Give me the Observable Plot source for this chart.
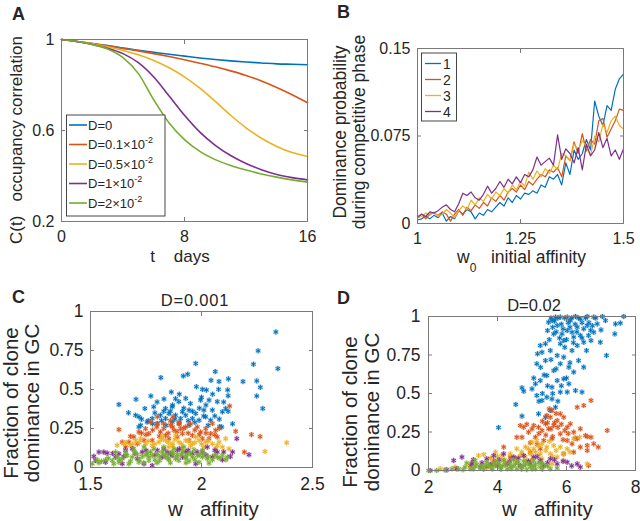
<!DOCTYPE html>
<html><head><meta charset="utf-8">
<script src="https://cdn.jsdelivr.net/npm/d3@7"></script>
<script src="https://cdn.jsdelivr.net/npm/@observablehq/plot@0.6"></script>
<style>
body{margin:0;background:#fff;}
#fig{position:relative;width:640px;height:521px;overflow:hidden;background:#fff;}
.panel{position:absolute;}
.panel svg{overflow:visible;}
</style></head><body><div id="fig"></div>
<script>
// ---------- Panel A data ----------
const days = [0,1,2,3,4,5,6,7,8,9,10,11,12,13,14,15,16];
const corrD0   = [1,.991,.982,.973,.962,.953,.944,.935,.927,.919,.912,.906,.901,.897,.893,.891,.889];
const corrD01  = [1,.991,.982,.972,.961,.950,.938,.925,.911,.896,.880,.862,.842,.818,.789,.757,.722];
const corrD05  = [1,.991,.981,.968,.952,.933,.908,.876,.836,.786,.728,.667,.612,.566,.530,.503,.486];
const corrD1   = [1,.991,.978,.962,.938,.898,.835,.752,.667,.593,.535,.490,.455,.428,.407,.393,.383];
const corrD2   = [1,.992,.978,.958,.920,.850,.735,.633,.560,.508,.472,.446,.426,.409,.395,.383,.373];
const legendA  = ["D=0","D=0.1×10|-2","D=0.5×10|-2","D=1×10|-2","D=2×10|-2"];
const ticksAx = [0,8,16], ticksAy = [0.2,0.6,1];

// ---------- Panel B data ----------
const w0 = [1.00,1.01,1.02,1.03,1.04,1.05,1.06,1.07,1.08,1.09,1.10,1.11,1.12,1.13,1.14,1.15,1.16,1.17,1.18,1.19,1.20,1.21,1.22,1.23,1.24,1.25,1.26,1.27,1.28,1.29,1.30,1.31,1.32,1.33,1.34,1.35,1.36,1.37,1.38,1.39,1.40,1.41,1.42,1.43,1.44,1.45,1.46,1.47,1.48,1.49,1.50];
const dom1 = [.003,.004,.006,.004,.007,.005,.009,.002,.006,.004, .011,.008,.012,.010,.004,.009,.007,.012,.010,.014, .018,.015,.022,.018,.024,.021,.026,.025,.028,.026, .033,.031,.040,.038,.042,.033,.052,.042,.063,.055, .060,.072,.063,.105,.092,.084,.101,.097,.115,.124, .128];
const dom2 = [.006,.008,.004,.008,.009,.007,.010,.008,.002,.008, .012,.007,.014,.011,.016,.013,.018,.015,.022,.019, .024,.020,.027,.030,.027,.033,.029,.036,.033,.038, .042,.040,.046,.044,.048,.040,.058,.054,.070,.060, .077,.062,.072,.068,.088,.090,.074,.081,.088,.098, .097];
const dom3 = [.005,.006,.009,.007,.010,.006,.008,.012,.009,.005, .011,.015,.012,.020,.016,.022,.019,.025,.021,.027, .024,.030,.026,.033,.029,.036,.032,.044,.038,.045, .040,.047,.043,.050,.046,.060,.058,.054,.068,.063, .071,.066,.058,.075,.070,.085,.078,.088,.092,.084, .081];
const dom4 = [.005,.008,.006,.010,.009,.011,.014,.016,.012,.010, .017,.026,.024,.027,.022,.020,.025,.032,.026,.030, .036,.031,.038,.034,.040,.035,.042,.040,.046,.057, .050,.053,.056,.050,.076,.055,.064,.060,.052,.065, .046,.068,.058,.063,.078,.065,.073,.058,.063,.055, .064];
const legendB = ["1","2","3","4"];
const ticksBx = [1,1.25,1.5], ticksBy = [0,0.075,0.15];

// ---------- Panel C data (D=0.001) : [w, fraction] ----------
const cBlue = [[2.335,.869],[2.255,.748],[2.344,.634],[2.234,.662],[2.249,.555],[2.265,.514],[2.249,.458],[2.276,.378],[2.187,.551],[2.121,.568],[2.079,.551],[2.062,.615],[2.118,.497],[2.077,.501],[2.043,.559],[2.004,.501],[1.974,.667],[1.977,.518],[1.938,.598],[1.918,.587],[1.817,.576],[1.864,.484],[1.772,.458],[1.831,.439],[1.705,.437],[1.628,.404],[1.671,.351],[1.718,.325],[1.883,.441],[1.898,.422],[1.929,.443],[1.944,.368],[1.959,.314],[1.996,.432],[2.022,.497],[2.034,.432],[2.049,.368],[2.071,.422],[2.094,.357],[2.109,.378],[2.091,.260],[2.082,.262],[1.838,.378],[1.853,.346],[1.868,.389],[1.815,.335],[1.785,.389],[1.755,.292],[1.726,.271],[1.778,.314],[1.801,.282],[1.883,.335],[1.906,.314],[1.929,.335],[1.974,.346],[2.011,.368],[2.019,.325],[1.989,.303],[1.838,.314],[1.703,.335],[1.745,.378],[1.718,.260],[1.868,.292],[1.944,.271],[1.914,.357],[2.041,.303],
  [1.76,.30],[1.79,.35],[1.82,.30],[1.84,.27],[1.86,.36],[1.88,.31],[1.90,.28],[1.92,.38],[1.94,.30],[1.97,.29],[1.99,.38],[2.01,.33],[2.03,.27],[2.06,.33],[2.08,.31],[2.10,.42],[2.12,.36],[2.14,.28],[1.73,.31],[1.80,.42],[1.87,.40],[1.95,.41],[2.00,.45],[2.05,.47],[2.12,.46],[1.90,.47],[1.83,.36],[1.96,.36],[2.02,.40],[1.78,.28]];
const cRed = [[2.127,.394],[2.154,.232],[2.225,.211],[2.264,.198],[2.193,.099],[1.628,.243],[2.049,.282],[2.064,.239],[2.041,.217],[2.019,.249],[1.996,.228],[1.929,.260],[1.898,.282],[1.861,.271],[1.829,.282],[1.799,.260],[1.771,.292],[1.748,.249],[1.718,.228],[1.695,.196],[1.673,.163],[1.643,.163],[1.658,.131],[1.763,.217],[1.815,.228],[1.838,.206],[1.876,.239],[1.914,.217],[1.959,.206],[1.981,.260],[2.004,.185],[2.034,.185],[2.071,.196],[1.778,.174],[1.741,.174],[1.853,.185],[1.891,.196],[1.944,.174],[1.801,.325],[1.871,.325],[1.906,.249],[1.711,.152],
  [1.75,.21],[1.78,.24],[1.81,.20],[1.83,.25],[1.85,.22],[1.87,.26],[1.89,.23],[1.92,.25],[1.94,.22],[1.97,.24],[1.99,.21],[2.02,.22],[2.06,.21],[1.73,.22],[1.80,.28],[1.86,.30],[1.90,.29],[1.95,.28],[2.08,.25],[1.68,.20]];
const cYellow = [[2.384,.159],[2.286,.103],[2.124,.120],[2.109,.185],[2.079,.163],[2.049,.152],[2.019,.163],[1.989,.174],[1.959,.152],[1.929,.174],[1.898,.163],[1.868,.152],[1.838,.174],[1.808,.163],[1.778,.142],[1.748,.152],[1.726,.185],[1.703,.174],[1.680,.142],[1.650,.152],[1.620,.142],[1.823,.196],[1.883,.206],[1.974,.196],[2.011,.131],[2.064,.120],[1.853,.131],[1.914,.120],[2.094,.131],
  [1.72,.16],[1.76,.17],[1.79,.15],[1.82,.18],[1.85,.16],[1.88,.18],[1.91,.15],[1.94,.17],[1.97,.16],[2.00,.15],[2.03,.17],[2.07,.14],[1.66,.16],[1.69,.15],[1.87,.14],[1.95,.14]];
const cPurple = [[1.515,.071],[1.538,.099],[1.560,.099],[1.575,.092],[1.523,.045],[1.568,.034],[1.613,.067],[1.628,.088],[1.658,.110],[1.688,.120],[1.741,.024],[1.778,.013],[1.823,.067],[1.868,.077],[1.914,.067],[1.959,.088],[1.974,.024],[2.004,.099],[2.049,.067],[2.094,.049],[2.140,.099],[2.159,.185],[2.214,.082],[1.733,.099],[1.801,.110],[1.845,.099],[1.891,.110],[1.929,.099],[2.026,.131],[2.071,.099],[1.711,.056],[1.643,.024],
  [1.70,.09],[1.75,.11],[1.79,.08],[1.83,.12],[1.86,.09],[1.90,.12],[1.94,.11],[1.98,.10],[2.02,.08],[2.06,.11],[2.10,.10],[2.13,.07],[1.60,.09],[1.65,.07]];
const cGreen = [[1.508,.024],[1.538,.030],[1.568,.049],[1.598,.045],[1.620,.067],[1.643,.056],[1.665,.077],[1.688,.067],[1.711,.084],[1.733,.071],[1.756,.092],[1.778,.077],[1.801,.088],[1.823,.099],[1.845,.084],[1.868,.099],[1.891,.084],[1.914,.099],[1.936,.084],[1.959,.067],[1.981,.077],[2.004,.067],[2.026,.056],[2.049,.049],[2.071,.067],[2.094,.077],[2.117,.067],[1.628,.034],[1.673,.024],[1.718,.034],[1.763,.045],[1.812,.045],[1.853,.049],[1.898,.045],[1.944,.041],[1.989,.034],[2.034,.028],[1.695,.120],[1.741,.131],[1.785,.120],[1.830,.131],[1.876,.120],[1.921,.131],[1.966,.114],[1.658,.099],[1.613,.099],[2.004,.110],[1.763,.067],[1.838,.067],[1.883,.056],[1.929,.067],[1.605,.024],[1.530,.049],
  [1.70,.10],[1.72,.05],[1.75,.08],[1.77,.10],[1.79,.05],[1.81,.07],[1.83,.08],[1.85,.06],[1.87,.09],[1.89,.07],[1.91,.08],[1.93,.06],[1.95,.09],[1.97,.05],[1.99,.08],[2.01,.09],[2.03,.07],[2.06,.08],[2.08,.06],[2.11,.05],[1.68,.04],[1.74,.03],[1.80,.03],[1.86,.03],[1.93,.03],[1.55,.04],[1.58,.06],[1.63,.05],[1.66,.08]];
const ticksCx = [1.5,2,2.5], ticksCy = [0,0.25,0.5,0.75,1];

// ---------- Panel D data (D=0.02) : [w, fraction] ----------
const dBlue = [[7.66,1.0],[7.56,.957],[7.42,.952],[7.40,.887],[7.16,.747],[6.98,.833],[7.0,.913],[6.79,.996],[6.60,.942],[6.64,.877],[6.50,.833],[6.58,.779],[6.40,.985],[6.31,.931],[6.21,.866],[6.11,.974],[6.02,.909],[5.92,.844],[5.82,.996],[5.73,.942],[5.63,.887],[5.58,.974],[5.48,.963],[5.45,.909],[5.39,.823],[5.24,.812],[5.29,.768],[5.14,.693],[5.16,.758],[5.39,.714],[5.53,.779],[5.73,.747],[5.82,.693],[5.63,.649],[5.43,.617],[5.24,.584],[5.10,.563],[5.0,.530],[4.71,.537],[4.76,.515],[5.14,.487],[5.29,.455],[5.43,.476],[5.58,.465],[5.68,.411],[5.53,.390],[5.39,.346],[5.19,.368],[4.53,.429],[4.71,.353],[4.03,.279],[5.92,.595],[6.07,.563],[6.21,.639],[6.26,.519],[6.02,.509],[6.45,.509],[6.35,.714],[6.50,.671],[6.16,.779],[5.92,.736],[6.07,.671],[5.82,.823],[6.31,.812],[6.79,.898],[6.89,.952],[7.13,.974],[6.02,.996],[6.26,1.0],[6.60,1.0],[7.04,1.0],[5.68,.996],[5.87,.887],[6.16,.898],[6.40,.877],[6.71,.844],[5.73,.584],[5.82,.509],[5.58,.541],
  [5.55,.99],[5.65,.97],[5.75,.99],[5.85,.95],[5.95,.99],[6.05,.96],[6.15,.99],[6.25,.95],[6.35,.99],[6.45,.96],[6.55,.99],[6.65,.96],[6.75,.94],[6.85,.99],[5.60,.93],[5.70,.90],[5.90,.92],[6.10,.93],[6.30,.90],[6.50,.92],[6.70,.91],[5.80,.86],[6.00,.85],[6.20,.83],[6.45,.86],[5.50,.85],[5.95,.80],[6.10,.70],[5.70,.66],[5.55,.72],[5.35,.62],[5.45,.55],[5.60,.50],[5.30,.50],[5.20,.45],[5.75,.45],[6.00,.60],[5.85,.55],[5.05,.60],[5.25,.67]];
const dRed = [[6.71,.455],[6.50,.422],[6.31,.411],[7.18,.260],[6.92,.152],[6.79,.173],[6.60,.162],[6.71,.216],[6.55,.227],[6.40,.271],[6.21,.249],[6.11,.303],[6.02,.281],[5.92,.346],[5.82,.368],[5.73,.325],[5.63,.292],[5.53,.346],[5.48,.271],[5.39,.303],[5.29,.260],[5.19,.281],[5.05,.292],[4.90,.249],[4.76,.281],[4.66,.292],[4.56,.216],[4.71,.216],[5.10,.216],[5.34,.195],[5.58,.206],[5.82,.238],[6.02,.195],[6.16,.173],[6.31,.206],[6.40,.152],[4.18,.152],[5.43,.357],[5.58,.390],[5.92,.108],[6.21,.119],[6.60,.130],[5.24,.141],[4.95,.119],[4.37,.087],[3.89,.065],[3.21,.032],[3.69,.022],[6.64,.032],
  [5.30,.32],[5.45,.31],[5.55,.27],[5.65,.31],[5.75,.28],[5.85,.30],[5.95,.26],[6.05,.24],[5.40,.23],[5.60,.22],[5.20,.24],[5.00,.27],[4.85,.30],[5.70,.37],[5.50,.40],[5.90,.20],[6.25,.21],[6.60,.22],[4.95,.18],[5.15,.17]];
const dYellow = [[4.56,.141],[4.81,.152],[5.0,.184],[5.14,.195],[5.29,.173],[5.43,.152],[5.63,.162],[5.82,.152],[6.02,.141],[6.21,.206],[6.38,.216],[5.24,.108],[4.95,.108],[4.66,.097],[4.37,.108],[4.13,.097],[3.94,.119],[3.60,.104],[3.45,.097],[3.26,.054],[5.05,.141],[5.53,.108],[5.73,.087],[5.92,.065],[4.85,.065],[4.56,.054],[4.23,.043],[3.89,.032],[5.29,.076],[5.58,.043],[6.60,.043],[2.34,.011],[2.77,.022],
  [4.70,.12],[4.90,.14],[5.10,.12],[5.20,.16],[5.40,.13],[5.50,.19],[5.70,.13],[5.90,.11],[6.10,.12],[4.50,.08],[4.80,.09],[5.00,.07],[5.60,.09],[4.20,.07],[4.00,.09],[3.80,.08]];
const dPurple = [[2.05,0],[2.97,.087],[3.26,.043],[3.69,.076],[3.89,.097],[4.18,.108],[4.47,.087],[4.76,.097],[5.05,.087],[5.24,.065],[5.53,.076],[5.73,.043],[6.02,.054],[6.31,.043],[6.40,.022],[4.28,.043],[3.99,.032],[3.50,.022],[4.66,.032],[4.95,.043],[5.34,.032],[2.82,.011],[2.53,.004],[2.73,.065],
  [3.30,.07],[3.55,.05],[3.80,.04],[4.05,.07],[4.35,.06],[4.60,.08],[4.90,.06],[5.15,.09],[5.45,.05],[5.65,.07],[5.90,.06],[6.15,.03]];
const dGreen = [[2.0,0],[2.24,0],[2.48,.004],[2.68,.011],[2.87,.011],[3.06,.022],[3.21,.011],[3.35,.026],[3.50,.017],[3.64,.032],[3.79,.022],[3.94,.032],[4.08,.022],[4.23,.039],[4.37,.026],[4.52,.043],[4.66,.026],[4.81,.039],[4.95,.026],[5.10,.039],[5.24,.022],[5.39,.032],[5.53,.011],[5.73,.015],[4.18,.065],[4.47,.069],[4.76,.061],[3.69,.054],[3.99,.061],[5.05,.065],[5.29,.048],[3.35,.065],[3.11,.048],[4.28,.011],[4.56,.011],[4.85,.006],[5.10,.011],
  [3.00,.005],[3.30,.01],[3.60,.008],[3.85,.01],[4.10,.008],[4.40,.012],[4.70,.008],[5.00,.01],[5.30,.008],[3.40,.04],[3.75,.035],[4.05,.045],[4.35,.05],[4.60,.055],[4.90,.045],[5.20,.05],[5.45,.03],[4.15,.03],[4.45,.03],[4.75,.03],[5.05,.03],[3.55,.03],[3.90,.045]];
const ticksDx = [2,4,6,8], ticksDy = [0,0.25,0.5,0.75,1];

// ---------- styling ----------
const FONT = '"Liberation Sans", Arial, Helvetica, sans-serif';
const INK = "#262626", AX = "#7a7a7a";
const COLORS = ["#0072BD","#D95319","#EDB120","#7E2F8E","#77AC30"];
const fig = document.getElementById("fig");

function addPlot(left, top, w, h, m, xdom, ydom, xt, yt, fs, padX, padY, marks) {
  const p = Plot.plot({
    width: w, height: h,
    marginLeft: m[0], marginRight: m[1], marginTop: m[2], marginBottom: m[3],
    x: {domain: xdom}, y: {domain: ydom},
    style: {fontFamily: FONT, background: "transparent", overflow: "visible", color: INK},
    marks: [
      ...marks,
      Plot.frame({stroke: AX, strokeWidth: 1}),
      Plot.axisX(xt, {anchor: "bottom", tickSize: -4, stroke: AX, fill: "none", label: null, tickFormat: () => ""}),
      Plot.axisX(xt, {anchor: "top", tickSize: -4, stroke: AX, fill: "none", label: null, tickFormat: () => ""}),
      Plot.axisY(yt, {anchor: "left", tickSize: -4, stroke: AX, fill: "none", label: null, tickFormat: () => ""}),
      Plot.axisY(yt, {anchor: "right", tickSize: -4, stroke: AX, fill: "none", label: null, tickFormat: () => ""}),
      Plot.axisX(xt, {anchor: "bottom", tickSize: 0, tickPadding: padX, fontSize: fs, fill: INK, label: null, tickFormat: d => String(d)}),
      Plot.axisY(yt, {anchor: "left", tickSize: 0, tickPadding: padY, fontSize: fs, fill: INK, label: null, tickFormat: d => String(d)})
    ]
  });
  const d = document.createElement("div");
  d.className = "panel";
  d.style.left = left + "px"; d.style.top = top + "px";
  d.appendChild(p);
  fig.appendChild(d);
}

function series(xs, ys) { return xs.map((x, i) => ({x, y: ys[i]})); }

function scatter(pts, color) {
  return [
    Plot.dot(pts, {x: d => d[0], y: d => d[1], r: 2.8, fill: color, fillOpacity: 0.28, stroke: "none"}),
    Plot.dot(pts, {x: d => d[0], y: d => d[1], r: 2.4, symbol: "asterisk", fill: "none", stroke: color, strokeWidth: 1})
  ];
}

// Panel A
const corrA = [corrD0, corrD01, corrD05, corrD1, corrD2];
addPlot(0, 0, 320, 260, [61, 13, 39, 39], [0, 16], [0.2, 1], ticksAx, ticksAy, 16, 9, 7,
  corrA.map((c, i) => Plot.line(series(days, c), {x: "x", y: "y", stroke: COLORS[i], strokeWidth: 1.6, curve: "monotone-x"})));

// Panel B
const domB = [dom1, dom2, dom3, dom4];
addPlot(320, 0, 320, 260, [97, 17, 48, 37], [1, 1.5], [0, 0.15], ticksBx, ticksBy, 16, 9, 7,
  domB.map((c, i) => Plot.line(series(w0, c), {x: "x", y: "y", stroke: COLORS[i], strokeWidth: 1.2})));

// Panel C
addPlot(0, 260, 320, 261, [90, 8, 51, 54], [1.5, 2.5], [0, 1], ticksCx, ticksCy, 17.5, 10, 7,
  [cBlue, cRed, cYellow, cPurple, cGreen].flatMap((p, i) => scatter(p, COLORS[i])));

// Panel D
addPlot(320, 260, 320, 261, [108, 5, 56, 51], [2, 8], [0, 1], ticksDx, ticksDy, 17.5, 10, 8,
  [dBlue, dRed, dYellow, dPurple, dGreen].flatMap((p, i) => scatter(p, COLORS[i])));

// ---------- overlay: labels, titles, legends ----------
const svg = d3.select(fig).append("svg")
  .attr("width", 640).attr("height", 521)
  .style("position", "absolute").style("left", 0).style("top", 0)
  .style("font-family", FONT).style("pointer-events", "none");

function label(x, y, str, fs, opts = {}) {
  const t = svg.append("text")
    .attr("x", x).attr("y", y)
    .attr("font-size", fs).attr("fill", INK)
    .attr("text-anchor", opts.anchor || "middle")
    .attr("font-weight", opts.weight || "normal")
    .style("white-space", "pre");
  if (opts.spacing) t.attr("letter-spacing", opts.spacing);
  t.text(str);
  return t;
}
function vlabel(cx, cy, str, fs) {
  svg.append("text")
    .attr("transform", `translate(${cx},${cy}) rotate(-90)`)
    .attr("dy", "0.35em").attr("text-anchor", "middle")
    .attr("font-size", fs).attr("fill", INK)
    .style("white-space", "pre").text(str);
}

// panel letters
label(12, 20, "A", 18, {anchor: "start", weight: "bold"});
label(337, 18, "B", 18, {anchor: "start", weight: "bold"});
label(12, 303, "C", 18, {anchor: "start", weight: "bold"});
label(337, 304, "D", 18, {anchor: "start", weight: "bold"});

// Panel A labels
vlabel(16, 140, "C(t)   occupancy correlation", 17);
label(180, 262, "t    days", 17);

// Panel B labels
vlabel(340, 132, "Dominance probability", 17.5);
vlabel(359, 132, "during competitive phase", 17.5);
{
  const t = svg.append("text").attr("x", 457).attr("y", 263).attr("font-size", 17.5)
    .attr("fill", INK).style("white-space", "pre");
  t.append("tspan").text("w");
  t.append("tspan").attr("font-size", 12).attr("dy", 9).text("0");
  t.append("tspan").attr("dy", -9).text("   initial affinity");
}

// Panel C labels
label(195, 305.5, "D=0.001", 16.5, {spacing: 0.8});
vlabel(11, 403, "Fraction of clone", 20.5);
vlabel(32, 403, "dominance in GC", 20.5);
label(168, 516, "w   affinity", 20.5, {anchor: "start"});

// Panel D labels
label(534, 310.5, "D=0.02", 16.5);
vlabel(350, 412, "Fraction of clone", 20.5);
vlabel(372, 412, "dominance in GC", 20.5);
label(502, 516, "w   affinity", 20.5, {anchor: "start"});

// Legend A
svg.append("rect").attr("x", 66.5).attr("y", 115).attr("width", 98.5).attr("height", 101)
  .attr("fill", "#fff").attr("stroke", "#333").attr("stroke-width", 0.9);
legendA.forEach((s, i) => {
  const y = 125 + i * 19.5;
  svg.append("line").attr("x1", 69).attr("x2", 87).attr("y1", y).attr("y2", y)
    .attr("stroke", COLORS[i]).attr("stroke-width", 1.6);
  const [main, sup] = s.split("|");
  const t = svg.append("text").attr("x", 88).attr("y", y).attr("dy", "0.36em")
    .attr("font-size", 13).attr("fill", INK);
  t.append("tspan").text(main);
  if (sup) t.append("tspan").attr("font-size", 9).attr("dy", -6).text(sup);
});

// Legend B
svg.append("rect").attr("x", 421.5).attr("y", 53).attr("width", 35).attr("height", 68)
  .attr("fill", "#fff").attr("stroke", "#333").attr("stroke-width", 0.9);
legendB.forEach((s, i) => {
  const y = 63.5 + i * 16;
  svg.append("line").attr("x1", 425).attr("x2", 441).attr("y1", y).attr("y2", y)
    .attr("stroke", COLORS[i]).attr("stroke-width", 1.3);
  svg.append("text").attr("x", 443).attr("y", y).attr("dy", "0.36em")
    .attr("font-size", 14).attr("fill", INK).text(s);
});
</script></body></html>
